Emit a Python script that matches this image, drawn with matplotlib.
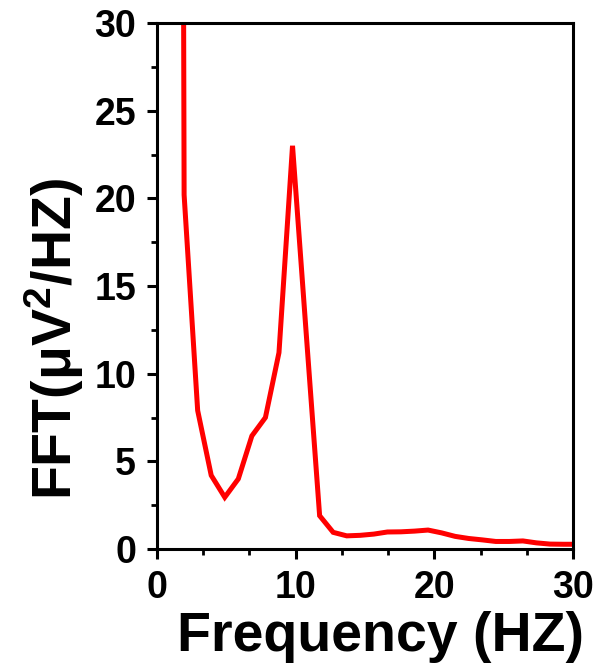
import matplotlib
matplotlib.use("Agg")
import matplotlib.pyplot as plt
import numpy as np
from matplotlib.ticker import MultipleLocator

plt.rcParams['font.family'] = ['Liberation Sans', 'DejaVu Sans']
plt.rcParams['font.weight'] = 'bold'
plt.rcParams['mathtext.fontset'] = 'custom'
plt.rcParams['mathtext.rm'] = 'Liberation Sans:bold'
plt.rcParams['mathtext.bf'] = 'Liberation Sans:bold'
plt.rcParams['mathtext.default'] = 'rm'

# spectrum bins (~0.977 Hz resolution) and power
bin_index = np.arange(1, 32)
freq = bin_index * 0.977
power = [300.0, 20.2, 7.9, 4.2, 2.95, 4.0, 6.45, 7.5, 11.2, 23.0,
         12.4, 1.9, 0.95, 0.75, 0.78, 0.85, 0.97, 0.98, 1.02, 1.08,
         0.92, 0.72, 0.6, 0.52, 0.43, 0.43, 0.46, 0.35, 0.28, 0.27, 0.27]

fig = plt.figure(figsize=(5.97, 6.70), dpi=100)
ax = fig.add_axes([0.263, 0.1806, 0.697, 0.785])

ax.plot(freq, power, color='#ff0000', lw=3.6, solid_joinstyle='miter')

ax.set_xlim(0, 30)
ax.set_ylim(0, 30)
ax.xaxis.set_major_locator(MultipleLocator(10))
ax.xaxis.set_minor_locator(MultipleLocator(10 / 3))
ax.yaxis.set_major_locator(MultipleLocator(5))
ax.yaxis.set_minor_locator(MultipleLocator(2.5))

for s in ax.spines.values():
    s.set_linewidth(2.2)
ax.tick_params(which='major', direction='out', length=7, width=2.2,
               labelsize=27, pad=8)
ax.tick_params(which='minor', direction='out', length=4.5, width=2.0)

ax.set_xlabel('Frequency (HZ)', fontsize=40, fontweight='bold', labelpad=4)
ax.set_ylabel('FFT(μV$^2$/HZ)', fontsize=40, fontweight='bold', labelpad=6)
# labels sit a bit off-centre
ax.xaxis.label.set_x(0.538)
ax.yaxis.label.set_y(0.40)

fig.savefig('out.png', dpi=100)
